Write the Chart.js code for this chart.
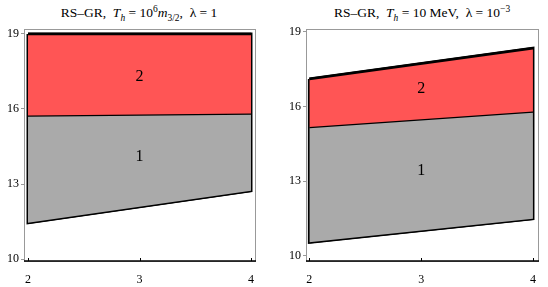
<!DOCTYPE html>
<html lang="en">
<head>
<meta charset="UTF-8">
<title>RS-GR regions</title>
<script src="https://cdn.jsdelivr.net/npm/chart.js"></script>
<style>
    body { margin: 0; background: #fff; }
    #wrap { position: relative; width: 548px; height: 287px; font-family: "Liberation Serif", "DejaVu Serif", serif; }
    .panel { position: absolute; top: 0; width: 274px; height: 287px; }
    .panel canvas { position: absolute; left: 0; top: 0; }
    .title { position: absolute; top: 5px; font-size: 13.5px; white-space: nowrap; color: #000; transform: translateX(-50%); }
    .title sub, .title sup { font-size: 70%; line-height: 0; }
</style>
</head>
<body>
<div id="wrap">
    <div class="panel" style="left:0">
        <div class="title" style="left:139px">RS&ndash;GR, &nbsp;<i>T<sub>h</sub></i> = 10<sup>6</sup><i>m</i><sub>3/2</sub>, &nbsp;&lambda; = 1</div>
        <canvas id="leftChart" width="274" height="287"></canvas>
    </div>
    <div class="panel" style="left:274px">
        <div class="title" style="left:148px">RS&ndash;GR, &nbsp;<i>T<sub>h</sub></i> = 10 MeV, &nbsp;&lambda; = 10<sup>&minus;3</sup></div>
        <canvas id="rightChart" width="274" height="287"></canvas>
    </div>
</div>

<script>
    // region boundaries at x = 2 and x = 4
    const xEnds = [2, 4];
    const xTicks = [2, 3, 4];
    const yTicks = [10, 13, 16, 19];

    const leftTop = [19, 19];
    const leftMid = [15.74, 15.82];
    const leftBottom = [11.45, 12.73];

    const rightTop = [17.11, 18.35];
    const rightMid = [15.18, 15.80];
    const rightBottom = [10.54, 11.49];

    const regionNames = ['1', '2'];
    const labelX = 3;
    const leftLabelY = [14.1, 17.3];
    const rightLabelY = [13.4, 16.7];

    const RED = '#ff5555';
    const GREY = '#aaaaaa';

    function pts(ys) {
        return xEnds.map((x, i) => ({ x: x, y: ys[i] }));
    }

    // frame + region numbers
    const framePlugin = {
        id: 'frame',
        beforeDatasetsDraw(chart) {
            const a = chart.chartArea, ctx = chart.ctx;
            ctx.save();
            ctx.strokeStyle = '#999';
            ctx.lineWidth = 1;
            ctx.strokeRect(a.left + 0.5, a.top + 0.5, a.right - a.left, a.bottom - a.top);
            ctx.restore();
        },
        afterDatasetsDraw(chart, args, opts) {
            const a = chart.chartArea, ctx = chart.ctx;
            const xs = chart.scales.x, ys = chart.scales.y;
            ctx.save();
            ctx.strokeStyle = '#000';
            ctx.lineWidth = 1.5;
            ctx.beginPath();
            ctx.moveTo(a.left, a.bottom);
            ctx.lineTo(a.right + 1, a.bottom);
            ctx.stroke();
            // inward x ticks
            ctx.lineWidth = 1;
            xTicks.forEach(v => {
                const px = Math.round(xs.getPixelForValue(v)) + 0.5;
                ctx.beginPath();
                ctx.moveTo(px, a.bottom);
                ctx.lineTo(px, a.bottom - 3);
                ctx.stroke();
            });
            ctx.fillStyle = '#000';
            ctx.font = '16px "Liberation Serif", serif';
            ctx.textAlign = 'center';
            ctx.textBaseline = 'middle';
            regionNames.forEach((name, i) => {
                ctx.fillText(name, xs.getPixelForValue(labelX), ys.getPixelForValue(opts.labelY[i]));
            });
            ctx.restore();
        }
    };

    function makeChart(id, top, mid, bottom, labelY, xr, yr, yWidth, padLeft, padRight) {
        new Chart(document.getElementById(id), {
            type: 'line',
            data: {
                datasets: [
                    { data: pts(top), fill: '+1', backgroundColor: RED, borderColor: '#000', borderWidth: 2.5 },
                    { data: pts(mid), fill: '+1', backgroundColor: GREY, borderColor: '#000', borderWidth: 2.5 },
                    { data: pts(bottom), fill: false, borderColor: '#000', borderWidth: 2.5 },
                    {
                        data: [
                            { x: xEnds[0], y: top[0] }, { x: xEnds[1], y: top[1] },
                            { x: xEnds[1], y: bottom[1] }, { x: xEnds[0], y: bottom[0] },
                            { x: xEnds[0], y: top[0] }
                        ],
                        fill: false, borderColor: '#000', borderWidth: 3, borderJoinStyle: 'miter'
                    }
                ]
            },
            options: {
                responsive: false,
                animation: false,
                parsing: false,
                elements: { point: { radius: 0 }, line: { tension: 0 } },
                layout: { padding: { top: 29, left: padLeft, right: padRight, bottom: 0 } },
                plugins: {
                    legend: { display: false },
                    tooltip: { enabled: false },
                    frame: { labelY: labelY }
                },
                scales: {
                    x: {
                        type: 'linear',
                        min: xr[0], max: xr[1],
                        afterBuildTicks: s => { s.ticks = xTicks.map(v => ({ value: v })); },
                        afterFit: s => { s.height = 26; },
                        grid: { display: false },
                        border: { display: false },
                        ticks: { color: '#000', padding: 4, font: { family: '"Liberation Serif", serif', size: 12 } }
                    },
                    y: {
                        type: 'linear',
                        min: yr[0], max: yr[1],
                        afterBuildTicks: s => { s.ticks = yTicks.map(v => ({ value: v })); },
                        afterFit: s => { s.width = yWidth; },
                        grid: { drawOnChartArea: false, tickLength: 3, color: '#999' },
                        border: { display: false },
                        ticks: { color: '#000', padding: 2, font: { family: '"Liberation Serif", serif', size: 12 } }
                    }
                }
            },
            plugins: [framePlugin]
        });
    }

    makeChart('leftChart', leftTop, leftMid, leftBottom, leftLabelY,
        [1.964, 4.036], [9.92, 19.2], 24, 0, 19);
    makeChart('rightChart', rightTop, rightMid, rightBottom, rightLabelY,
        [1.97, 4.045], [9.79, 19.12], 24, 8, 10);
</script>
</body>
</html>
